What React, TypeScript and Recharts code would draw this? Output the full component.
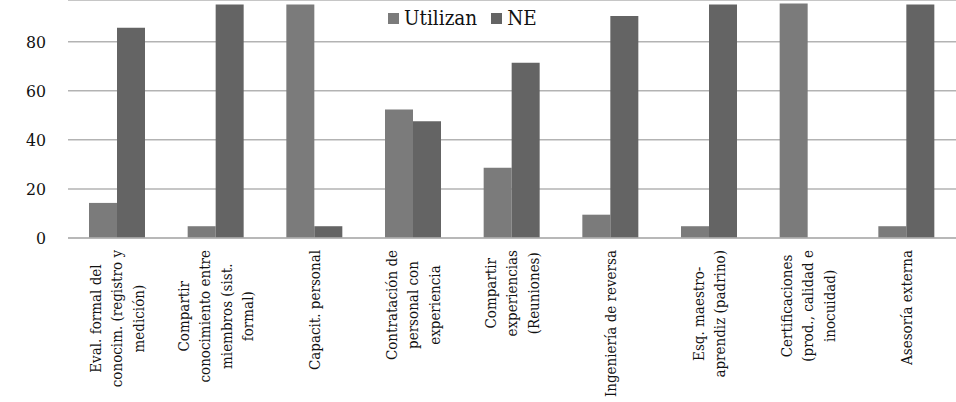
import { BarChart, Bar, XAxis, YAxis, CartesianGrid } from "recharts";

const categories = [
  "Eval. formal del\nconocim. (registro y\nmedición)",
  "Compartir\nconocimiento entre\nmiembros (sist.\nformal)",
  "Capacit. personal",
  "Contratación de\npersonal con\nexperiencia",
  "Compartir\nexperiencias\n(Reuniones)",
  "Ingeniería de reversa",
  "Esq. maestro-\naprendiz (padrino)",
  "Certificaciones\n(prod., calidad e\ninocuidad)",
  "Asesoría externa",
];

const utilizan = [14.3, 4.8, 95.2, 52.4, 28.6, 9.5, 4.8, 95.6, 4.8];
const ne = [85.7, 95.2, 4.8, 47.6, 71.4, 90.5, 95.2, 0, 95.2];
const yTicks = [0, 20, 40, 60, 80];

const series = [
  { key: "utilizan", name: "Utilizan", color: "#7b7b7b" },
  { key: "ne", name: "NE", color: "#646464" },
];

const data = categories.map((name, i) => ({
  name,
  utilizan: utilizan[i],
  ne: ne[i],
}));

const GRID = "#b3b3b3";
const FONT = "DejaVu Serif Condensed";
const LABEL_SIZE = 15;

let measureCtx: CanvasRenderingContext2D | null = null;
function textWidth(s: string) {
  if (!measureCtx) {
    measureCtx = document.createElement("canvas").getContext("2d");
  }
  if (!measureCtx) return s.length * LABEL_SIZE * 0.5;
  measureCtx.font = `${LABEL_SIZE}px "${FONT}"`;
  return measureCtx.measureText(s).width;
}

// rotated multi-line label: block hangs from the axis, lines centred inside it
function CategoryTick({ x, y, payload }: any) {
  const lines: string[] = String(payload.value).split("\n");
  const n = lines.length;
  const longest = Math.max(...lines.map(textWidth));
  return (
    <g transform={`translate(${x},${y + 4}) rotate(-90)`}>
      {lines.map((line, i) => (
        <text
          key={i}
          x={-longest / 2}
          y={(i - (n - 1) / 2) * 21.5}
          textAnchor="middle"
          dominantBaseline="central"
          fontSize={LABEL_SIZE}
          style={{ fontFamily: FONT }}
          fill="#111"
        >
          {line}
        </text>
      ))}
    </g>
  );
}

export default function App() {
  return (
    <div style={{ position: "absolute", left: 0, top: 0, width: 956, height: 402 }}>
      <BarChart
        width={956}
        height={402}
        data={data}
        margin={{ top: 0, right: 0, bottom: 0, left: 0 }}
        barGap={0}
        barSize={28}
      >
        <CartesianGrid horizontal vertical={false} stroke={GRID} strokeWidth={1.5} />
        <XAxis
          dataKey="name"
          interval={0}
          height={164}
          tickLine={false}
          axisLine={{ stroke: GRID, strokeWidth: 1.5 }}
          tick={<CategoryTick />}
        />
        <YAxis
          width={68}
          domain={[0, 97]}
          ticks={yTicks}
          axisLine={false}
          tickLine={false}
          tickSize={0}
          tickMargin={22}
          tick={{ fontSize: 17.5, fill: "#111", style: { fontFamily: FONT } }}
        />
        {series.map((s) => (
          <Bar key={s.key} dataKey={s.key} name={s.name} fill={s.color} isAnimationActive={false} />
        ))}
      </BarChart>
      <div
        style={{
          position: "absolute",
          top: 6,
          left: 388,
          display: "flex",
          alignItems: "center",
          fontSize: 20.5,
          color: "#111",
          lineHeight: "24px",
          fontFamily: FONT,
        }}
      >
        {series.map((s) => (
          <div key={s.key} style={{ display: "flex", alignItems: "center", marginRight: 14 }}>
            <div style={{ width: 11, height: 11, background: s.color, marginRight: 5 }} />
            <span>{s.name}</span>
          </div>
        ))}
      </div>
    </div>
  );
}
